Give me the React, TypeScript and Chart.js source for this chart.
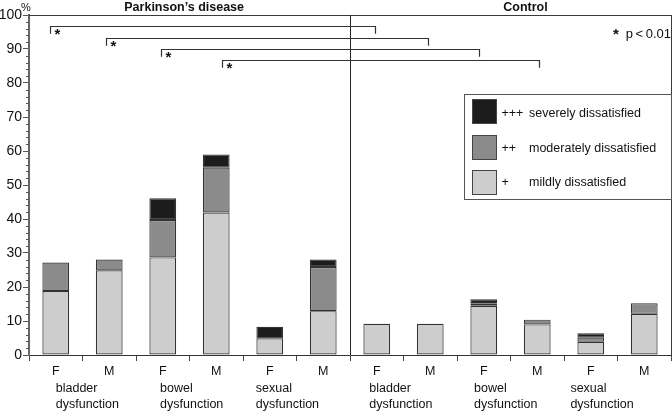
import React, { useEffect, useRef } from "react";
import { Chart, registerables } from "chart.js";

Chart.register(...registerables);

// ---- data ----
const categories = ["F", "M", "F", "M", "F", "M", "F", "M", "F", "M", "F", "M"];
const groupNames = [
  ["bladder", "dysfunction"],
  ["bowel", "dysfunction"],
  ["sexual", "dysfunction"],
  ["bladder", "dysfunction"],
  ["bowel", "dysfunction"],
  ["sexual", "dysfunction"],
];
const panelTitles = ["Parkinson’s disease", "Control"];
const mildValues = [18.8, 24.9, 28.7, 41.9, 4.9, 12.9, 9.2, 9.2, 14.5, 9.0, 3.9, 12.1];
const moderateValues = [8.4, 3.2, 11.0, 13.2, null, 13.0, null, null, 0.7, 1.4, 1.2, 3.1];
const severeValues = [null, null, 6.4, 3.9, 3.4, 2.2, null, null, 1.2, null, 1.3, null];
const seriesNames = ["mildly dissatisfied", "moderately dissatisfied", "severely dissatisfied"];
const legendSymbols = ["+++", "++", "+"];
const legendLabels = ["severely dissatisfied", "moderately dissatisfied", "mildly dissatisfied"];
const bracketStart = [-0.1, 0.93, 1.96, 3.1];
const bracketEnd = [5.97, 6.95, 7.92, 9.03];
const bracketLevel = [96.8, 93.3, 89.9, 86.8];
const significanceNote = "p\u2009<\u20090.01";
const yUnit = "%";

// ---- style ----
const FONT = "'Liberation Sans', Arial, Helvetica, sans-serif";
const MILD = "#cdcdcd";
const MODERATE = "#8b8b8b";
const SEVERE = "#1c1c1c";
const BORDER = "#333333";
const groupLabelOffset = [0, -0.05, -0.26, -0.14, -0.18, -0.38];

const annotate = {
  id: "annotate",
  afterDraw(chart: any) {
    const { ctx, chartArea: a, scales } = chart;
    const x = scales.x;
    const y = scales.y;
    ctx.save();

    // frame (top & right)
    ctx.strokeStyle = "#3a3a3a";
    ctx.lineWidth = 1;
    ctx.beginPath();
    ctx.moveTo(a.left, a.top + 0.5);
    ctx.lineTo(a.right + 1, a.top + 0.5);
    ctx.moveTo(a.right + 0.5, a.top);
    ctx.lineTo(a.right + 0.5, a.bottom);
    ctx.stroke();

    // divider between panels
    const dx = Math.round((x.getPixelForValue(5) + x.getPixelForValue(6)) / 2) + 0.5;
    ctx.strokeStyle = "#222";
    ctx.beginPath();
    ctx.moveTo(dx, a.top);
    ctx.lineTo(dx, a.bottom);
    ctx.stroke();

    // minor y ticks
    ctx.strokeStyle = "#555";
    ctx.lineWidth = 1;
    ctx.beginPath();
    for (let v = 0; v <= 100; v += 2) {
      if (v % 10 === 0) continue;
      const py = Math.round(y.getPixelForValue(v)) + 0.5;
      ctx.moveTo(a.left - 3, py);
      ctx.lineTo(a.left, py);
    }
    ctx.stroke();

    // significance brackets
    ctx.strokeStyle = "#333";
    ctx.lineWidth = 1.2;
    for (let i = 0; i < bracketLevel.length; i++) {
      const py = Math.round(y.getPixelForValue(bracketLevel[i])) + 0.5;
      const x0 = Math.round(x.getPixelForValue(bracketStart[i])) + 0.5;
      const x1 = Math.round(x.getPixelForValue(bracketEnd[i])) + 0.5;
      const drop = y.getPixelForValue(0) - y.getPixelForValue(2.1);
      ctx.beginPath();
      ctx.moveTo(x0, py + drop);
      ctx.lineTo(x0, py);
      ctx.lineTo(x1, py);
      ctx.lineTo(x1, py + drop);
      ctx.stroke();
      ctx.fillStyle = "#111";
      ctx.font = `bold 15px ${FONT}`;
      ctx.textAlign = "center";
      ctx.textBaseline = "middle";
      ctx.fillText("*", x0 + 7, py + 8.5);
    }

    // significance note
    ctx.fillStyle = "#111";
    ctx.font = `bold 15px ${FONT}`;
    ctx.textAlign = "center";
    ctx.textBaseline = "middle";
    ctx.fillText("*", a.right - 55, a.top + 20);
    ctx.font = `13px ${FONT}`;
    ctx.textAlign = "right";
    ctx.textBaseline = "alphabetic";
    ctx.fillText(significanceNote, a.right, a.top + 23.3);

    // legend box
    const lx = 464.5;
    const ly = 94.5;
    const lw = a.right + 0.5 - lx;
    const lh = 105;
    ctx.strokeStyle = "#555";
    ctx.lineWidth = 1;
    ctx.strokeRect(lx, ly, lw, lh);
    const swatchColors = [SEVERE, MODERATE, MILD];
    const swatchTops = [99.5, 135.5, 170.5];
    const baselines = [117, 151.5, 186];
    for (let i = 0; i < 3; i++) {
      ctx.fillStyle = swatchColors[i];
      ctx.fillRect(lx + 8, swatchTops[i], 24, 24);
      ctx.strokeStyle = "#444";
      ctx.strokeRect(lx + 8, swatchTops[i], 24, 24);
      ctx.fillStyle = "#111";
      ctx.font = `12.5px ${FONT}`;
      ctx.textAlign = "left";
      ctx.textBaseline = "alphabetic";
      ctx.fillText(legendSymbols[i], 501.5, baselines[i]);
      ctx.fillText(legendLabels[i], 529, baselines[i]);
    }

    // panel titles
    ctx.fillStyle = "#111";
    ctx.font = `bold 12.5px ${FONT}`;
    ctx.textAlign = "center";
    ctx.textBaseline = "alphabetic";
    ctx.fillText(panelTitles[0], x.getPixelForValue(2.4), 11);
    ctx.fillText(panelTitles[1], x.getPixelForValue(8.78), 11);

    // unit label
    ctx.font = `11px ${FONT}`;
    ctx.fillText(yUnit, a.left - 3, 11);

    // group labels below axis
    ctx.font = `12.5px ${FONT}`;
    ctx.textAlign = "left";
    for (let g = 0; g < groupNames.length; g++) {
      const gx = x.getPixelForValue(g * 2 + groupLabelOffset[g]);
      ctx.fillText(groupNames[g][0], gx, a.bottom + 36.7);
      ctx.fillText(groupNames[g][1], gx, a.bottom + 53.3);
    }

    ctx.restore();
  },
};

export default function App() {
  const canvasRef = useRef<HTMLCanvasElement | null>(null);

  useEffect(() => {
    document.body.style.margin = "0";
    const canvas = canvasRef.current;
    if (!canvas) return;
    const chart = new Chart(canvas, {
      type: "bar",
      data: {
        labels: categories,
        datasets: [
          { label: seriesNames[0], data: mildValues, backgroundColor: MILD },
          { label: seriesNames[1], data: moderateValues, backgroundColor: MODERATE },
          { label: seriesNames[2], data: severeValues, backgroundColor: SEVERE },
        ].map((d) => ({
          ...d,
          borderColor: BORDER,
          borderWidth: 1.2,
          borderSkipped: false,
          inflateAmount: 0,
          categoryPercentage: 1,
          barPercentage: 0.5,
        })) as any,
      },
      options: {
        responsive: true,
        maintainAspectRatio: false,
        animation: false,
        layout: { padding: { top: 15, right: 1, left: 0, bottom: 0 } },
        plugins: {
          legend: { display: false },
          tooltip: { enabled: false },
          title: { display: false },
        },
        scales: {
          x: {
            stacked: true,
            grid: {
              offset: true,
              drawOnChartArea: false,
              drawTicks: true,
              tickLength: 6,
              color: "#444",
              lineWidth: 1,
            },
            border: { display: true, color: "#333", width: 1 },
            ticks: {
              color: "#111",
              font: { family: FONT, size: 12.5 },
              padding: 3,
              maxRotation: 0,
              autoSkip: false,
            },
            afterFit: (s: any) => {
              s.height = 57;
            },
          },
          y: {
            stacked: true,
            min: 0,
            max: 100,
            grid: {
              drawOnChartArea: false,
              drawTicks: true,
              tickLength: 6,
              color: "#555",
              lineWidth: 1,
            },
            border: { display: true, color: "#666", width: 2 },
            ticks: {
              stepSize: 10,
              color: "#111",
              font: { family: FONT, size: 14 },
              padding: 1,
            },
            afterFit: (s: any) => {
              s.width = 29;
            },
          },
        },
      },
      plugins: [annotate],
    });
    return () => chart.destroy();
  }, []);

  return (
    <div style={{ width: 672, height: 412, position: "relative", overflow: "hidden" }}>
      <canvas ref={canvasRef} />
    </div>
  );
}
